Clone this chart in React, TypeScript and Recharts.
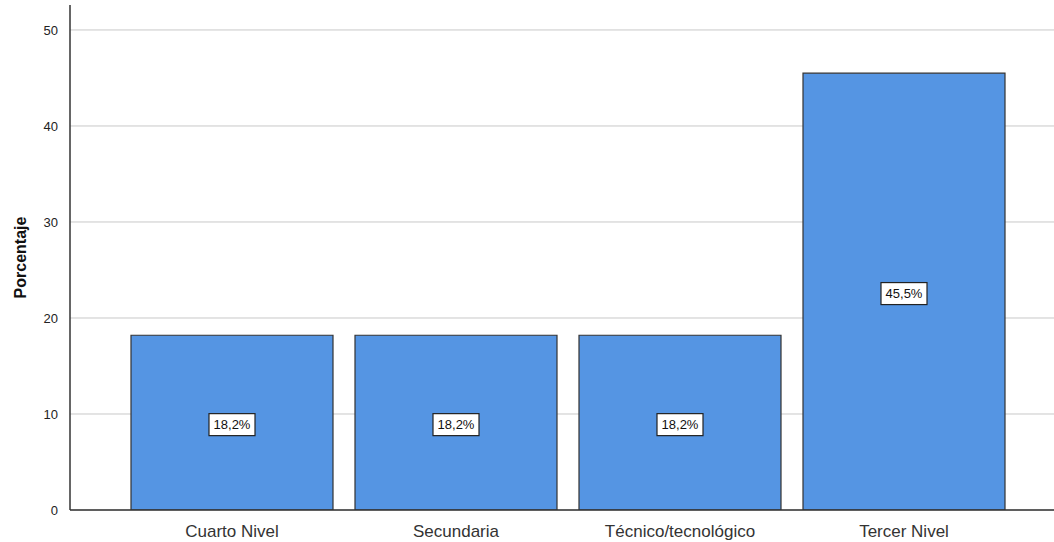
import { BarChart, Bar, XAxis, YAxis, CartesianGrid, LabelList, Label } from 'recharts';

const categories = ['Cuarto Nivel', 'Secundaria', 'Técnico/tecnológico', 'Tercer Nivel'];
const percentages = [18.2, 18.2, 18.2, 45.5];
const yTicks = [0, 10, 20, 30, 40, 50];

const data = categories.map((name, i) => ({ name, value: percentages[i] }));

const FONT = '"Liberation Sans", Arial, sans-serif';

// white box label in the middle of each bar
const BoxLabel = (props: any) => {
  const { x, y, width, height, value } = props;
  const cx = x + width / 2;
  const cy = y + height / 2 + 2;
  const text = `${value.toFixed(1).replace('.', ',')}%`;
  const w = 46;
  const h = 22;
  return (
    <g>
      <rect x={cx - w / 2} y={cy - h / 2} width={w} height={h} fill="#ffffff" stroke="#222" strokeWidth={1.2} />
      <text x={cx} y={cy + 4.5} textAnchor="middle" fontSize={13} fontFamily={FONT} fill="#111">
        {text}
      </text>
    </g>
  );
};

const YTitle = (props: any) => {
  const { viewBox } = props;
  const x = 20;
  const y = viewBox.y + viewBox.height / 2;
  return (
    <text
      x={x}
      y={y}
      transform={`rotate(-90, ${x}, ${y})`}
      textAnchor="middle"
      dominantBaseline="central"
      fontSize={16}
      fontWeight="bold"
      fontFamily={FONT}
      fill="#111"
    >
      Porcentaje
    </text>
  );
};

export default function App() {
  return (
    <div style={{ position: 'absolute', left: 0, top: 0, background: '#fff' }}>
      <BarChart
        width={1054}
        height={542}
        data={data}
        margin={{ top: 5, right: 0, bottom: 0, left: 0 }}
        barCategoryGap={11}
      >
        <CartesianGrid horizontal vertical={false} stroke="#c8c8c8" strokeWidth={1} syncWithTicks />
        <XAxis
          dataKey="name"
          height={32}
          padding={{ left: 50, right: 38 }}
          axisLine={{ stroke: '#333', strokeWidth: 1.5 }}
          tickLine={false}
          tickMargin={9}
          tick={{ fontSize: 17, fontFamily: FONT, fill: '#333' }}
          interval={0}
        />
        <YAxis
          width={70}
          domain={[0, 52.6]}
          ticks={yTicks}
          allowDataOverflow
          axisLine={{ stroke: '#333', strokeWidth: 1.5 }}
          tickLine={false}
          tickMargin={6}
          tick={{ fontSize: 13, fontFamily: FONT, fill: '#222' }}
        >
          <Label content={YTitle} />
        </YAxis>
        <Bar dataKey="value" fill="#5595e3" stroke="#333" strokeWidth={1.2} isAnimationActive={false}>
          <LabelList dataKey="value" content={BoxLabel} />
        </Bar>
      </BarChart>
    </div>
  );
}
